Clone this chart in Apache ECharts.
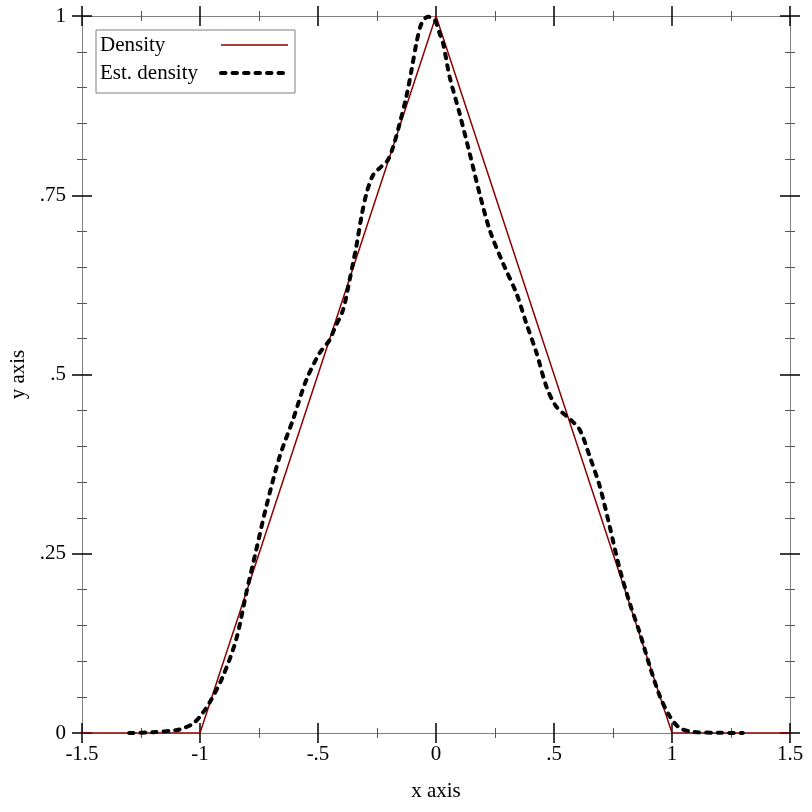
<!DOCTYPE html>
<html>
<head>
<meta charset="utf-8">
<script src="https://cdn.jsdelivr.net/npm/echarts@6/dist/echarts.min.js"></script>
<style>html,body{margin:0;padding:0;background:#fff}#c{width:812px;height:812px}</style>
</head>
<body>
<div id="c"></div>
<script>
// Data
const densityX = [-1.5, -1, 0, 1, 1.5];
const densityY = [0, 0, 1, 0, 0];
const estX = [-1.3, -1.2, -1.1, -1.075, -1.03, -1.0, -0.96, -0.903, -0.847, -0.804, -0.762, -0.719, -0.663, -0.606, -0.55, -0.493, -0.451, -0.43, -0.394, -0.366, -0.338, -0.316, -0.295, -0.267, -0.232, -0.204, -0.182, -0.154, -0.126, -0.104, -0.083, -0.062, -0.034, -0.005, 0.016, 0.03, 0.058, 0.1, 0.143, 0.185, 0.228, 0.284, 0.341, 0.383, 0.426, 0.468, 0.51, 0.567, 0.609, 0.652, 0.694, 0.736, 0.779, 0.821, 0.864, 0.906, 0.949, 0.991, 1.033, 1.09, 1.2, 1.3];
const estY = [0, 0.001, 0.004, 0.006, 0.013, 0.023, 0.042, 0.079, 0.13, 0.195, 0.255, 0.316, 0.385, 0.437, 0.492, 0.53, 0.548, 0.564, 0.59, 0.632, 0.678, 0.72, 0.752, 0.778, 0.79, 0.799, 0.817, 0.85, 0.887, 0.924, 0.962, 0.989, 0.999, 0.994, 0.975, 0.962, 0.915, 0.864, 0.808, 0.752, 0.701, 0.655, 0.613, 0.571, 0.53, 0.483, 0.455, 0.438, 0.423, 0.385, 0.344, 0.288, 0.228, 0.181, 0.139, 0.093, 0.051, 0.023, 0.007, 0.0015, 0.0003, 0];
const xTickLabels = ['-1.5', '-1', '-.5', '0', '.5', '1', '1.5'];
const yTickLabels = ['0', '.25', '.5', '.75', '1'];
const seriesNames = ['Density', 'Est. density'];

const FONT = 'Liberation Serif';
const AXIS_GRAY = '#808080';
const RED = '#8b0000';
const DASH = [4.5, 7];

function xAx(pos, inside, labels) {
  return {
    type: 'value', position: pos, min: -1.5, max: 1.5, interval: 0.5,
    name: labels ? 'x axis' : '', nameLocation: 'middle', nameGap: 48,
    nameTextStyle: { fontFamily: FONT, fontSize: 21, color: '#000' },
    axisLine: { show: !inside, onZero: false, lineStyle: { color: AXIS_GRAY, width: 1 } },
    axisTick: { show: true, inside: inside, length: 10, lineStyle: { color: '#000', width: 1.5 } },
    minorTick: { show: true, splitNumber: 2, length: 5, lineStyle: { color: '#555', width: 1 } },
    axisLabel: { show: labels, fontFamily: FONT, fontSize: 21, color: '#000', margin: 11,
      formatter: (v, i) => xTickLabels[i] },
    splitLine: { show: false }, minorSplitLine: { show: false }
  };
}
function yAx(pos, inside, labels) {
  return {
    type: 'value', position: pos, min: 0, max: 1, interval: 0.25, offset: 0,
    name: labels ? 'y axis' : '', nameLocation: 'middle', nameGap: 52, nameRotate: 90,
    nameTextStyle: { fontFamily: FONT, fontSize: 21, color: '#000' },
    axisLine: { show: !inside, onZero: false, lineStyle: { color: AXIS_GRAY, width: 1 } },
    axisTick: { show: true, inside: inside, length: 10, lineStyle: { color: '#000', width: 1.5 } },
    minorTick: { show: true, splitNumber: 5, length: 5, lineStyle: { color: '#555', width: 1 } },
    axisLabel: { show: labels, fontFamily: FONT, fontSize: 21, color: '#000', margin: 16,
      formatter: (v, i) => yTickLabels[i] },
    splitLine: { show: false }, minorSplitLine: { show: false }
  };
}

const chart = echarts.init(document.getElementById('c'), null, { renderer: 'canvas' });
chart.setOption({
  animation: false,
  backgroundColor: '#fff',
  grid: { left: 82, right: 22, top: 16, bottom: 79, containLabel: false, outerBoundsMode: 'none' },
  xAxis: [xAx('bottom', false, true), xAx('bottom', true, false), xAx('top', false, false), xAx('top', true, false)],
  yAxis: [yAx('left', false, true), yAx('left', true, false), yAx('right', false, false), yAx('right', true, false)],
  legend: {
    show: true, orient: 'vertical', align: 'right', left: 96, top: 30,
    padding: [4, 5, 9, 4], itemGap: 6, itemWidth: 67, itemHeight: 14,
    borderColor: AXIS_GRAY, borderWidth: 1, backgroundColor: '#fff',
    itemStyle: { opacity: 0 },
    formatter: name => '{t|' + name + '}',
    textStyle: { fontFamily: FONT, fontSize: 21, color: '#000', lineHeight: 22,
      rich: { t: { fontFamily: FONT, fontSize: 21, color: '#000', width: 116, align: 'left', lineHeight: 22 } } },
    data: [
      { name: seriesNames[0], lineStyle: { color: RED, width: 1.5, type: 'solid' } },
      { name: seriesNames[1], lineStyle: { color: '#000', width: 4, type: DASH, cap: 'round' } }
    ]
  },
  series: [
    {
      name: seriesNames[0], type: 'line', xAxisIndex: 0, yAxisIndex: 0,
      data: densityX.map((x, i) => [x, densityY[i]]),
      symbol: 'none', lineStyle: { color: RED, width: 1.5 }, itemStyle: { color: RED },
      z: 3
    },
    {
      name: seriesNames[1], type: 'line', xAxisIndex: 0, yAxisIndex: 0,
      data: estX.map((x, i) => [x, estY[i]]),
      symbol: 'none', smooth: 0.3,
      lineStyle: { color: '#000', width: 4, type: DASH, cap: 'round' }, itemStyle: { color: '#000' },
      z: 4
    }
  ]
});
</script>
</body>
</html>
